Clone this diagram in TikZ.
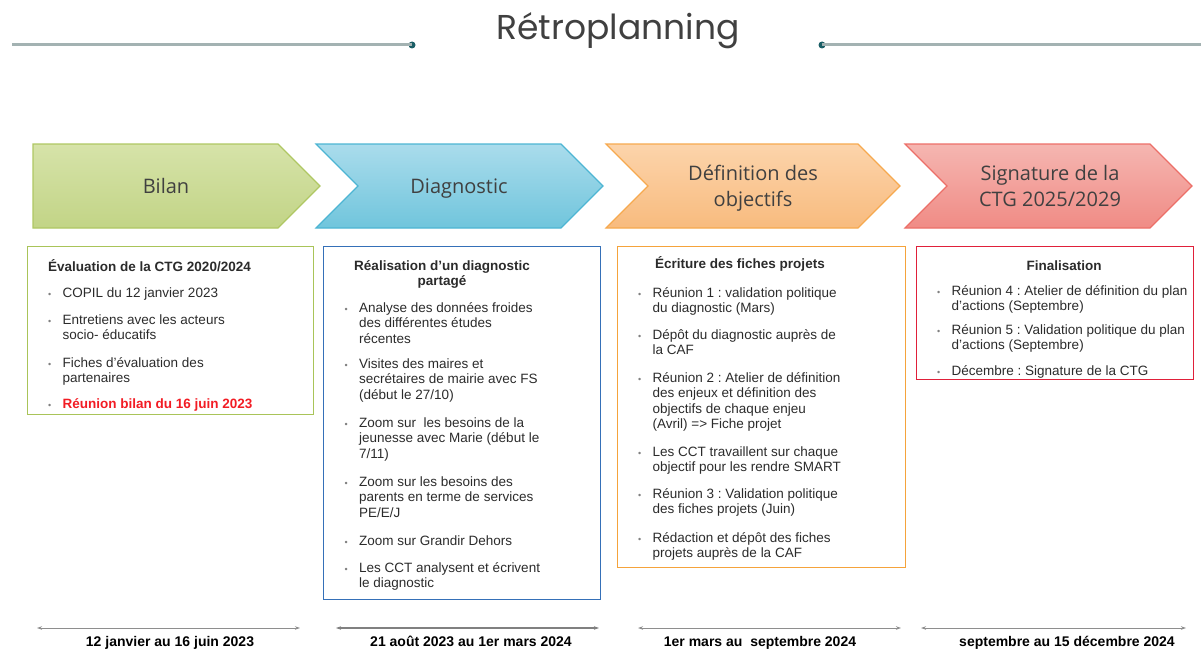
\documentclass[tikz,border=0pt]{standalone}
\usepackage{fontspec}
\setmainfont{Liberation Sans}
\newfontfamily\rptitlefont{Poppins}
\newfontfamily\rpchevfont{Open Sans}
\usetikzlibrary{arrows.meta}
\frenchspacing

\definecolor{txt}{HTML}{2B2B2B}
\definecolor{headtxt}{HTML}{404040}
\definecolor{rulegray}{HTML}{A3B2B2}
\definecolor{dotteal}{HTML}{1B5E66}
\definecolor{bulgray}{HTML}{808080}
\definecolor{greenTop}{HTML}{D6E3A9}
\definecolor{greenBot}{HTML}{C2D486}
\definecolor{greenLine}{HTML}{AFC763}
\definecolor{blueTop}{HTML}{AADCEC}
\definecolor{blueBot}{HTML}{70C5DC}
\definecolor{blueLine}{HTML}{4DB5D3}
\definecolor{orTop}{HTML}{FCD4AB}
\definecolor{orBot}{HTML}{F8BB7E}
\definecolor{orLine}{HTML}{F6A94F}
\definecolor{redTop}{HTML}{F5B6B1}
\definecolor{redBot}{HTML}{F08B85}
\definecolor{redLine}{HTML}{EC6F68}
\definecolor{boxGreen}{HTML}{A9C459}
\definecolor{boxBlue}{HTML}{3570B8}
\definecolor{boxOrange}{HTML}{F5A33B}
\definecolor{boxRed}{HTML}{E0203A}
\definecolor{hotred}{HTML}{F21C24}
\definecolor{arrowgray}{HTML}{8E8E8E}

% bullet and line blocks used inside the list nodes
\newcommand\rpbul{\makebox[14.5pt][l]{\textcolor{bulgray}{\fontsize{9}{9}\selectfont\textbullet}}}
\newcommand\rplines[1]{\parbox[t]{240pt}{\raggedright #1}}
\newcommand\rpcentred[2]{\parbox[t]{#1}{\centering #2}}

\tikzset{
  chev/.style={line width=1.1pt, shading angle=0},
  chevlabel/.style={anchor=base, font=\rpchevfont\fontsize{20}{26.5}\selectfont, text=headtxt, inner sep=0},
  listbox/.style={draw, line width=1.3pt, anchor=north west, inner sep=0},
  itemtxt/.style={anchor=base west, inner sep=0, text=txt, font=\fontsize{13.5}{15.6}\selectfont},
  boxhead/.style={inner sep=0, text=txt, font=\bfseries\fontsize{13.5}{15.6}\selectfont},
  datearrow/.style={draw=arrowgray, line width=1pt, {Stealth[length=5pt,width=3.5pt]}-{Stealth[length=5pt,width=3.5pt]}},
  datelabel/.style={anchor=base, inner sep=0, text=black, font=\bfseries\fontsize{14}{16}\selectfont},
  titlerule/.style={draw=rulegray, line width=3pt},
  titledot/.style={circle, fill=dotteal, inner sep=0, minimum size=7pt},
}

\begin{document}
\begin{tikzpicture}[x=1pt,y=-1pt]
\useasboundingbox (0,0) rectangle (1201,650);

% ---- heading with its two rules
\node[anchor=base, inner sep=0, text=headtxt, font=\rptitlefont\fontsize{34.5}{40}\selectfont] (title) at (618,40) {Rétroplanning};
\coordinate (rl1) at (12,45);
\node[titledot] (dl) at (412,45) {};
\coordinate (rr2) at (1201,45);
\node[titledot] (dr) at (822,45) {};
\draw[titlerule] (rl1) -- (dl.center);
\draw[titlerule] (dr.center) -- (rr2);

% ---- phase chevrons
\path[chev, draw=greenLine, top color=greenTop, bottom color=greenBot]
  (33,144) -- (278,144) -- (320,186) -- (278,228) -- (33,228) -- cycle;
\path[chev, draw=blueLine, top color=blueTop, bottom color=blueBot]
  (316,144) -- (561,144) -- (603,186) -- (561,228) -- (316,228) -- (358,186) -- cycle;
\path[chev, draw=orLine, top color=orTop, bottom color=orBot]
  (606,144) -- (858,144) -- (900,186) -- (858,228) -- (606,228) -- (648,186) -- cycle;
\path[chev, draw=redLine, top color=redTop, bottom color=redBot]
  (905,144) -- (1150,144) -- (1192,186) -- (1150,228) -- (905,228) -- (947,186) -- cycle;

\node[chevlabel] (cbilan) at (166,193) {Bilan};
\node[chevlabel] (cdiag) at (459,193) {Diagnostic};
\node[chevlabel] (cdef) at (753,180) {\rpcentred{200pt}{Définition des\\objectifs}};
\node[chevlabel] (csig) at (1050,180) {\rpcentred{200pt}{Signature de la\\CTG 2025/2029}};

% ---- content boxes
\node[listbox, draw=boxGreen, minimum width=286pt, minimum height=168pt] (box1) at (27,246) {};
\node[listbox, draw=boxBlue, minimum width=277pt, minimum height=353pt] (box2) at (323,246) {};
\node[listbox, draw=boxOrange, minimum width=288pt, minimum height=321pt] (box3) at (617,246) {};
\node[listbox, draw=boxRed, minimum width=277pt, minimum height=133pt] (box4) at (916,246) {};

% box 1 : Bilan
\node[boxhead, anchor=base west] (b1t) at (48,271) {Évaluation de la CTG 2020/2024};
\node[itemtxt] (b1i1) at (48,297) {\rpbul\rplines{COPIL du 12 janvier 2023}};
\node[itemtxt] (b1i2) at (48,324) {\rpbul\rplines{Entretiens avec les acteurs\\socio- éducatifs}};
\node[itemtxt] (b1i3) at (48,367) {\rpbul\rplines{Fiches d'évaluation des\\partenaires}};
\node[itemtxt] (b1i4) at (48,408) {\rpbul\rplines{\textcolor{hotred}{\bfseries Réunion bilan du 16 juin 2023}}};

% box 2 : Diagnostic
\node[boxhead, anchor=base] (b2t) at (442,270) {\rpcentred{220pt}{Réalisation d'un diagnostic\\partagé}};
\node[itemtxt] (b2i1) at (344.5,312) {\rpbul\rplines{Analyse des données froides\\des différentes études\\récentes}};
\node[itemtxt] (b2i2) at (344.5,368) {\rpbul\rplines{Visites des maires et\\secrétaires de mairie avec FS\\(début le 27/10)}};
\node[itemtxt] (b2i3) at (344.5,427) {\rpbul\rplines{Zoom sur \ les besoins de la\\jeunesse avec Marie (début le\\7/11)}};
\node[itemtxt] (b2i4) at (344.5,486) {\rpbul\rplines{Zoom sur les besoins des\\parents en terme de services\\PE/E/J}};
\node[itemtxt] (b2i5) at (344.5,545) {\rpbul\rplines{Zoom sur Grandir Dehors}};
\node[itemtxt] (b2i6) at (344.5,572) {\rpbul\rplines{Les CCT analysent et écrivent\\le diagnostic}};

% box 3 : Définition des objectifs
\node[boxhead, anchor=base west] (b3t) at (655,268) {Écriture des fiches projets};
\node[itemtxt] (b3i1) at (638,297) {\rpbul\rplines{Réunion 1 : validation politique\\du diagnostic (Mars)}};
\node[itemtxt] (b3i2) at (638,339) {\rpbul\rplines{Dépôt du diagnostic auprès de\\la CAF}};
\node[itemtxt] (b3i3) at (638,382) {\rpbul\rplines{Réunion 2 : Atelier de définition\\des enjeux et définition des\\objectifs de chaque enjeu\\(Avril) => Fiche projet}};
\node[itemtxt] (b3i4) at (638,456) {\rpbul\rplines{Les CCT travaillent sur chaque\\objectif pour les rendre SMART}};
\node[itemtxt] (b3i5) at (638,498) {\rpbul\rplines{Réunion 3 : Validation politique\\des fiches projets (Juin)}};
\node[itemtxt] (b3i6) at (638,542) {\rpbul\rplines{Rédaction et dépôt des fiches\\projets auprès de la CAF}};

% box 4 : Signature
\node[boxhead, anchor=base] (b4t) at (1064,270) {Finalisation};
\node[itemtxt] (b4i1) at (937,295) {\rpbul\rplines{Réunion 4 : Atelier de définition du plan\\d'actions (Septembre)}};
\node[itemtxt] (b4i2) at (937,334) {\rpbul\rplines{Réunion 5 : Validation politique du plan\\d'actions (Septembre)}};
\node[itemtxt] (b4i3) at (937,375) {\rpbul\rplines{Décembre : Signature de la CTG}};

% ---- time spans
\coordinate (a1s) at (37,628);  \coordinate (a1e) at (300,628);
\coordinate (a2s) at (336,628); \coordinate (a2e) at (599,628);
\coordinate (a3s) at (638,628); \coordinate (a3e) at (901,628);
\coordinate (a4s) at (921,628); \coordinate (a4e) at (1186,628);
\draw[datearrow] (a1s) -- (a1e);
\draw[datearrow, line width=2pt, draw=arrowgray!90!black] (a2s) -- (a2e);
\draw[datearrow] (a3s) -- (a3e);
\draw[datearrow] (a4s) -- (a4e);

\node[datelabel] (d1) at (170,646) {12 janvier au 16 juin 2023};
\node[datelabel] (d2) at (471,646) {21 août 2023 au 1er mars 2024};
\node[datelabel] (d3) at (760,646) {1er mars au \ septembre 2024};
\node[datelabel] (d4) at (1067,646) {septembre au 15 décembre 2024};
\end{tikzpicture}
\end{document}
